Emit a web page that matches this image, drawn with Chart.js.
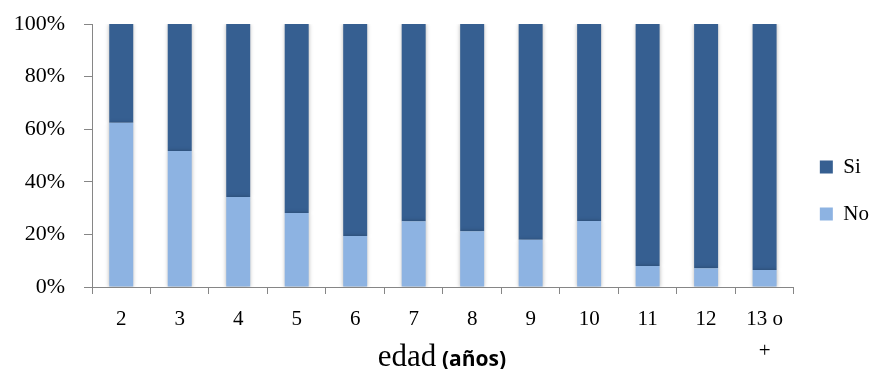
<!DOCTYPE html>
<html>
<head>
<meta charset="utf-8">
<script src="https://cdn.jsdelivr.net/npm/chart.js@4/dist/chart.umd.min.js"></script>
<style>
  html, body { margin: 0; padding: 0; background: #fff; }
  #wrap { width: 874px; height: 369px; }
</style>
</head>
<body>
<div id="wrap"><canvas id="c" width="874" height="369"></canvas></div>
<script>
// Age groups (years)
const categories = ['2', '3', '4', '5', '6', '7', '8', '9', '10', '11', '12', ['13 o', '+']];
// Share answering "No" per age group (%)
const noValues = [62.5, 51.7, 34.2, 28.1, 19.4, 25.0, 21.2, 18.0, 25.1, 8.0, 7.1, 6.5];
// Share answering "Si" per age group (%)
const siValues = [37.5, 48.3, 65.8, 71.9, 80.6, 75.0, 78.8, 82.0, 74.9, 92.0, 92.9, 93.5];
// Y axis tick values (%)
const yTicks = [0, 20, 40, 60, 80, 100];

const SERIF = '"Liberation Serif", "Times New Roman", serif';
const SANS = '"Open Sans", "Liberation Sans", sans-serif';
const AXIS_GREY = '#868686';

// soft shadow behind the bars
const barShadow = {
  id: 'barShadow',
  beforeDatasetsDraw(chart) {
    const ctx = chart.ctx;
    ctx.save();
    ctx.shadowColor = 'rgba(0,0,0,0.28)';
    ctx.shadowBlur = 4;
    ctx.shadowOffsetX = 0;
    ctx.shadowOffsetY = 0;
  },
  afterDatasetsDraw(chart) {
    chart.ctx.restore();
  }
};

// x axis title in two fonts: "edad" serif, "(años)" bold sans
const axisTitle = {
  id: 'axisTitle',
  afterDraw(chart) {
    const ctx = chart.ctx;
    const a = chart.chartArea;
    const part1 = 'edad ';
    const part2 = '(años)';
    const f1 = '31px ' + SERIF;
    const f2 = 'bold 21px ' + SANS;
    ctx.save();
    ctx.font = f1;
    const w1 = ctx.measureText(part1).width;
    ctx.font = f2;
    const w2 = ctx.measureText(part2).width;
    const cx = (a.left + a.right) / 2;
    let x = cx - (w1 + w2) / 2;
    const y = 366;
    ctx.fillStyle = '#000';
    ctx.textBaseline = 'alphabetic';
    ctx.textAlign = 'left';
    ctx.font = f1;
    ctx.fillText(part1, x, y);
    ctx.font = f2;
    ctx.fillText(part2, x + w1 - 2, y);
    ctx.restore();
  }
};

new Chart(document.getElementById('c'), {
  type: 'bar',
  data: {
    labels: categories,
    datasets: [
      {
        label: 'No',
        data: noValues,
        backgroundColor: '#8DB3E2',
        borderWidth: 0,
        categoryPercentage: 1,
        barPercentage: 0.41
      },
      {
        label: 'Si',
        data: siValues,
        backgroundColor: '#365F91',
        borderWidth: 0,
        categoryPercentage: 1,
        barPercentage: 0.41
      }
    ]
  },
  options: {
    responsive: false,
    animation: false,
    devicePixelRatio: 1,
    layout: { padding: { top: 24, right: -5, bottom: 12, left: 0 } },
    plugins: {
      title: { display: false },
      tooltip: { enabled: false },
      legend: {
        position: 'right',
        reverse: true,
        labels: {
          color: '#000',
          font: { family: SERIF, size: 21 },
          boxWidth: 13,
          boxHeight: 13,
          padding: 26
        }
      }
    },
    scales: {
      x: {
        stacked: true,
        afterFit(scale) {
          scale.height = 70;
        },
        grid: {
          display: true,
          drawOnChartArea: false,
          drawTicks: true,
          tickLength: 7,
          color: AXIS_GREY,
          offset: true
        },
        border: { display: true, color: AXIS_GREY, width: 1 },
        ticks: {
          color: '#000',
          font: { family: SERIF, size: 21, lineHeight: 1.5 },
          padding: 10,
          maxRotation: 0,
          autoSkip: false
        }
      },
      y: {
        stacked: true,
        min: 0,
        max: 100,
        afterBuildTicks(scale) {
          scale.ticks = yTicks.map(v => ({ value: v }));
        },
        afterFit(scale) {
          scale.width = 92;
          scale.paddingTop = 0;
          scale.paddingBottom = 0;
        },
        grid: {
          display: true,
          drawOnChartArea: false,
          drawTicks: true,
          tickLength: 8,
          color: AXIS_GREY
        },
        border: { display: true, color: AXIS_GREY, width: 1 },
        ticks: {
          color: '#000',
          font: { family: SERIF, size: 22 },
          padding: 19,
          callback: v => v + '%'
        }
      }
    }
  },
  plugins: [barShadow, axisTitle]
});
</script>
</body>
</html>
